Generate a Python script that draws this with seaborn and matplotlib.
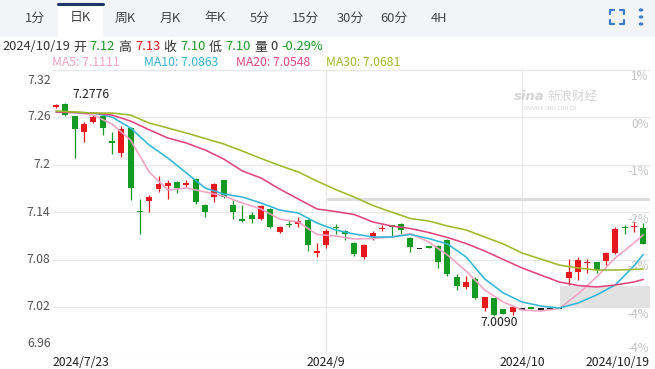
import numpy as np
import pandas as pd
import matplotlib
matplotlib.use("Agg")
import matplotlib.pyplot as plt
import seaborn as sns
from matplotlib.patches import Rectangle
from matplotlib.lines import Line2D

W, H = 655, 369

# daily candles, 2024/7/23 .. 2024/10/19
opens = [7.273, 7.276, 7.261, 7.241, 7.254, 7.261, 7.230, 7.2145, 7.246, 7.141,
         7.154, 7.169, 7.173, 7.178, 7.174, 7.182, 7.149, 7.159, 7.180, 7.149,
         7.131, 7.136, 7.131, 7.1435, 7.115, 7.125, 7.125, 7.130, 7.089, 7.098,
         7.121, 7.116, 7.101, 7.083, 7.1085, 7.119, 7.1235, 7.125, 7.107, 7.0935,
         7.0965, 7.097, 7.1045, 7.058, 7.045, 7.0555, 7.0185, 7.031, 7.017, 7.0135,
         7.0175, 7.020, 7.0175, 7.0185, 7.0185, 7.0565, 7.064, 7.0755, 7.0765, 7.0775,
         7.088, 7.121, 7.121, 7.120]
highs = [7.276, 7.2776, 7.261, 7.254, 7.262, 7.262, 7.241, 7.249, 7.247, 7.1565,
         7.1615, 7.1855, 7.180, 7.179, 7.180, 7.183, 7.150, 7.177, 7.181, 7.155,
         7.149, 7.140, 7.149, 7.145, 7.122, 7.130, 7.1335, 7.131, 7.101, 7.1185,
         7.125, 7.117, 7.102, 7.099, 7.116, 7.1235, 7.124, 7.126, 7.108, 7.0935,
         7.0965, 7.098, 7.106, 7.0615, 7.059, 7.058, 7.033, 7.032, 7.018, 7.021,
         7.0175, 7.020, 7.0175, 7.0185, 7.0185, 7.0805, 7.083, 7.0805, 7.077, 7.0895,
         7.121, 7.1235, 7.1275, 7.126]
lows = [7.272, 7.261, 7.208, 7.228, 7.252, 7.237, 7.213, 7.209, 7.155, 7.112,
        7.140, 7.165, 7.1565, 7.164, 7.171, 7.150, 7.1335, 7.1525, 7.158, 7.131,
        7.1275, 7.126, 7.130, 7.120, 7.1135, 7.121, 7.121, 7.091, 7.083, 7.0945,
        7.112, 7.1045, 7.0845, 7.0805, 7.1045, 7.116, 7.1085, 7.112, 7.089, 7.0935,
        7.095, 7.069, 7.059, 7.0415, 7.0425, 7.030, 7.015, 7.009, 7.011, 7.0095,
        7.0175, 7.0175, 7.0175, 7.0185, 7.0185, 7.048, 7.054, 7.063, 7.063, 7.073,
        7.087, 7.112, 7.115, 7.100]
closes = [7.275, 7.263, 7.245, 7.251, 7.260, 7.246, 7.227, 7.245, 7.170, 7.140,
          7.159, 7.175, 7.177, 7.170, 7.176, 7.1525, 7.140, 7.175, 7.159, 7.140,
          7.1285, 7.131, 7.1475, 7.121, 7.121, 7.1235, 7.1285, 7.098, 7.090, 7.116,
          7.120, 7.112, 7.087, 7.098, 7.1135, 7.120, 7.121, 7.117, 7.096, 7.0935,
          7.095, 7.077, 7.0615, 7.0465, 7.0515, 7.031, 7.0325, 7.010, 7.0115, 7.020,
          7.0175, 7.0175, 7.0175, 7.0185, 7.0185, 7.064, 7.0795, 7.077, 7.0665, 7.088,
          7.1185, 7.120, 7.1225, 7.100]

# moving average lines (every second day)
ma_idx = list(range(0, 63, 2)) + [63]
ma5 = [7.2663, 7.2657, 7.2625, 7.2511, 7.2309, 7.1905, 7.1678, 7.1703, 7.1653, 7.1602,
       7.1514, 7.1438, 7.1310, 7.1274, 7.1116, 7.1097, 7.1059, 7.1065, 7.1084, 7.1128,
       7.1021, 7.0857, 7.0655, 7.0415, 7.0263, 7.0162, 7.0149, 7.0181, 7.0364, 7.0579,
       7.0819, 7.1008, 7.1111]
ma10 = [7.2663, 7.2657, 7.2650, 7.2600, 7.2461, 7.2246, 7.2082, 7.1892, 7.1703, 7.1627,
        7.1589, 7.1514, 7.1425, 7.1387, 7.1261, 7.1173, 7.1122, 7.1084, 7.1084, 7.1116,
        7.1065, 7.0996, 7.0832, 7.0554, 7.0377, 7.0263, 7.0213, 7.0187, 7.0250, 7.0352,
        7.0478, 7.0718, 7.0863]
ma20 = [7.2663, 7.2657, 7.2650, 7.2625, 7.2549, 7.2438, 7.2335, 7.2271, 7.2183, 7.2069,
        7.1918, 7.1829, 7.1690, 7.1564, 7.1438, 7.1406, 7.1368, 7.1274, 7.1223, 7.1192,
        7.1141, 7.1078, 7.1002, 7.0907, 7.0800, 7.0693, 7.0604, 7.0516, 7.0472, 7.0453,
        7.0478, 7.0516, 7.0548]
ma30 = [7.2676, 7.2663, 7.2650, 7.2650, 7.2625, 7.2524, 7.2461, 7.2398, 7.2328, 7.2259,
        7.2170, 7.2076, 7.1987, 7.1905, 7.1791, 7.1684, 7.1589, 7.1482, 7.1400, 7.1318,
        7.1286, 7.1223, 7.1173, 7.1084, 7.0996, 7.0882, 7.0806, 7.0730, 7.0693, 7.0667,
        7.0667, 7.0674, 7.0681]

yticks = [6.96, 7.02, 7.08, 7.14, 7.2, 7.26, 7.32]
ytick_labels = ["6.96", "7.02", "7.08", "7.14", "7.2", "7.26", "7.32"]
pct_labels = ["-4%", "-4%", "-3%", "-2%", "-1%", "0%", "1%"]
xtick_idx = [0, 29, 50, 63]
xtick_labels = ["2024/7/23", "2024/9", "2024/10", "2024/10/19"]
tabs = ["1分", "日K", "周K", "月K", "年K", "5分", "15分", "30分", "60分", "4H"]
tab_x = [35, 80, 125, 170, 215, 260, 305, 350, 394, 439]

prev_line = 7.1565      # grey line level
prev_line_from = 29.2
box_low, box_high, box_from = 7.0187, 7.0465, 54.1

RED = "#e8161d"
GREEN = "#139a23"
MA_COLORS = {"MA5": "#f4a2c4", "MA10": "#33b6d6", "MA20": "#e2457c", "MA30": "#9cba2a"}

sns.set_theme(style="white")
plt.rcParams["font.family"] = ["Noto Sans CJK SC", "DejaVu Sans"]


def fx(x):
    return x / W


def fy(y):
    return 1 - y / H


fig = plt.figure(figsize=(W / 100, H / 100), dpi=100)
ax = fig.add_axes([fx(53), fy(354.5), (650 - 53) / W, (354.5 - 69.5) / H])
ax.set_xlim(-0.32, 63.73)
ax.set_ylim(6.96, 7.32)

for v in yticks:
    ax.axhline(v, color="#e8e8e8", lw=0.9, zorder=0)
for i in xtick_idx[1:3]:
    ax.axvline(i, color="#e8e8e8", lw=0.9, zorder=0)

ax.plot([prev_line_from, 63.73], [prev_line, prev_line], color="#dddddd", lw=2.2, zorder=1)
ax.add_patch(Rectangle((box_from, box_low), 63.73 - box_from, box_high - box_low,
                       facecolor="#e2e2e2", edgecolor="none", zorder=1))

# right side percentage labels (drawn under the lines)
for v, lab in zip(yticks, pct_labels):
    va = "bottom" if v == yticks[0] else "top"
    ax.text(0.998, v + (0.0 if va == "bottom" else -0.001), lab, transform=ax.get_yaxis_transform(),
            ha="right", va=va, fontsize=8.5, color="#c4c4c4", zorder=2)

# candles
df = pd.DataFrame({"open": opens, "high": highs, "low": lows, "close": closes})
df["idx"] = np.arange(len(df))
colors = np.where(df["close"] > df["open"], RED,
                  np.where(df["close"] < df["open"], GREEN, "#222222"))
ax.vlines(df["idx"], df["low"], df["high"], colors=colors, lw=0.9, zorder=3)
body = (df["close"] - df["open"]).abs()
body_h = body.clip(lower=0.0016)
bottom = df[["open", "close"]].min(axis=1) - (body_h - body) / 2
ax.bar(df["idx"], body_h, bottom=bottom, width=0.64, color=colors, linewidth=0, zorder=4)

# moving averages
n = len(ma_idx)
ma_df = pd.DataFrame({
    "idx": ma_idx * 4,
    "value": ma5 + ma10 + ma20 + ma30,
    "ma": ["MA5"] * n + ["MA10"] * n + ["MA20"] * n + ["MA30"] * n,
})
sns.lineplot(data=ma_df, x="idx", y="value", hue="ma", palette=MA_COLORS, ax=ax,
             legend=False, estimator=None, lw=1.15, zorder=5)

# extreme labels
hi_i = int(np.argmax(highs))
lo_i = int(np.argmin(lows))
ax.annotate(f"{highs[hi_i]:.4f}", xy=(hi_i, highs[hi_i]), xytext=(5, 6), textcoords="offset points",
            ha="left", va="center", fontsize=8.8, color="#222222", zorder=6)
ax.annotate(f"{lows[lo_i]:.4f}", xy=(lo_i, lows[lo_i]), xytext=(4, -5), textcoords="offset points",
            ha="center", va="center", fontsize=8.8, color="#222222", zorder=6)

for s in ax.spines.values():
    s.set_visible(False)
ax.set_xticks([])
ax.set_yticks([])
ax.set_xlabel("")
ax.set_ylabel("")

for v, lab in zip(yticks, ytick_labels):
    va = "top" if v == yticks[-1] else ("bottom" if v == yticks[0] else "center")
    off = -0.006 if va == "top" else (0.006 if va == "bottom" else 0)
    ax.text(-0.004, v + off, lab, transform=ax.get_yaxis_transform(), ha="right", va=va,
            fontsize=8.8, color="#555555")

xt_y = -(363 - 354.5) / 285
for i, lab in zip(xtick_idx, xtick_labels):
    ha = "left" if i == xtick_idx[0] else ("right" if i == xtick_idx[-1] else "center")
    xpos = -0.32 if ha == "left" else (63.73 if ha == "right" else i)
    ax.text(xpos, xt_y, lab, transform=ax.get_xaxis_transform(), ha=ha, va="center",
            fontsize=8.8, color="#222222", clip_on=False)

# tab bar
fig.patches.append(Rectangle((0, fy(37)), 1, 37 / H, transform=fig.transFigure,
                             facecolor="#f2f4f8", edgecolor="none", zorder=0))
fig.patches.append(Rectangle((fx(58), fy(37)), 45 / W, 34 / H, transform=fig.transFigure,
                             facecolor="white", edgecolor="none", zorder=1))
fig.lines.append(Line2D([fx(58), fx(103)], [fy(4), fy(4)], transform=fig.transFigure,
                        color="#1c3769", lw=2.2))
for t, x in zip(tabs, tab_x):
    fig.text(fx(x), fy(18), t, ha="center", va="center", fontsize=9.3, color="#444444")

# icons on the right of the tab bar
ic = "#3d7cc9"
cx, cy, r, k = 617, 17, 7, 4
for sx in (-1, 1):
    for sy in (-1, 1):
        xs = [cx + sx * r, cx + sx * r, cx + sx * (r - k)]
        ys = [cy + sy * (r - k), cy + sy * r, cy + sy * r]
        fig.lines.append(Line2D([fx(a) for a in xs], [fy(b) for b in ys],
                                transform=fig.transFigure, color=ic, lw=1.6))
for yy in (10, 17, 24):
    fig.patches.append(plt.Circle((fx(641), fy(yy)), 1.6 / W, transform=fig.transFigure,
                                  color=ic))

# info line
info_parts = [("2024/10/19", "#333333"), ("开", "#333333"), ("7.12", GREEN), ("高", "#333333"),
              ("7.13", RED), ("收", "#333333"), ("7.10", GREEN), ("低", "#333333"),
              ("7.10", GREEN), ("量", "#333333"), ("0", "#333333"), ("-0.29%", GREEN)]
renderer = fig.canvas.get_renderer()
x = 2
for s, c in info_parts:
    t = fig.text(fx(x), fy(47), s, ha="left", va="center", fontsize=9.3, color=c)
    x += t.get_window_extent(renderer).width + 3.5

legend_x = [52, 144, 236, 326]
legend_vals = [ma5[-1], ma10[-1], ma20[-1], ma30[-1]]
for (name, col), lx, val in zip(MA_COLORS.items(), legend_x, legend_vals):
    fig.text(fx(lx), fy(62), f"{name}: {val:.4f}", ha="left", va="center", fontsize=8.8, color=col)

# watermark
wm = fig.text(fx(514), fy(96), "sina", ha="left", va="center", fontsize=9.5, fontstyle="italic",
              fontweight="bold", color="#d4d4d4", family=["DejaVu Sans"])
wm_right = wm.get_window_extent(renderer).x1
fig.text((wm_right + 3) / W, fy(96), "新浪财经", ha="left", va="center", fontsize=9, color="#d6d6d6")
fig.text(fx(524), fy(108), "FINANCE.SINA.COM.CN", ha="left", va="center", fontsize=3.6, color="#d6d6d6")

fig.savefig("out.png", dpi=100)
